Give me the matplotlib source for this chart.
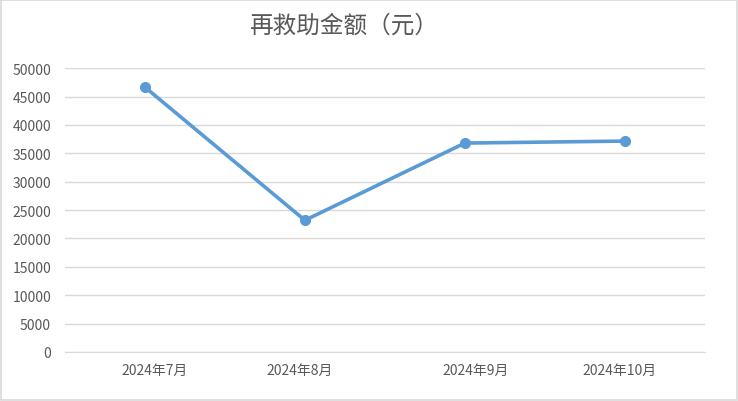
import matplotlib
matplotlib.use("Agg")
import matplotlib.pyplot as plt
import matplotlib.transforms as mtransforms
from matplotlib.patches import Rectangle

plt.rcParams['font.family'] = ['Noto Sans CJK SC', 'DejaVu Sans']

# data
months = ["2024年7月", "2024年8月", "2024年9月", "2024年10月"]
amounts = [46650, 23200, 36800, 37150]
y_ticks = list(range(0, 50001, 5000))

line_color = "#5B9BD5"
grid_color = "#D9D9D9"
text_color = "#595959"

fig = plt.figure(figsize=(7.38, 4.02), dpi=100)
ax = fig.add_axes([0.088, 0.122, 0.867, 0.706])

x = list(range(len(months)))
ax.plot(x, amounts, color=line_color, linewidth=2.6, marker="o",
        markersize=7, solid_capstyle="round", zorder=3)

ax.set_xlim(-0.5, len(months) - 0.5)
ax.set_ylim(0, 50000)
ax.set_yticks(y_ticks)
ax.set_yticklabels([str(v) for v in y_ticks])
ax.set_xticks(x)
ax.set_xticklabels(months)

ax.grid(axis="y", color=grid_color, linewidth=1)
ax.set_axisbelow(True)
for side in ["top", "right", "left"]:
    ax.spines[side].set_visible(False)
ax.spines["bottom"].set_color(grid_color)
ax.tick_params(axis="both", length=0, labelsize=10, labelcolor=text_color)
ax.tick_params(axis="y", pad=10)
ax.tick_params(axis="x", pad=8)

# the source offsets its category labels slightly from the points
shifts = [10, -5, 11, -5]
for lbl, dx in zip(ax.get_xticklabels(), shifts):
    lbl.set_transform(lbl.get_transform() +
                      mtransforms.ScaledTranslation(dx / 100, 0, fig.dpi_scale_trans))

fig.text(0.466, 0.935, "再救助金额（元）", ha="center", va="center",
         fontsize=17, color=text_color, fontweight="light")

fig.patches.append(Rectangle((0.002, 0.003), 0.996, 0.994, transform=fig.transFigure,
                             fill=False, edgecolor=grid_color, linewidth=1.2))

fig.savefig("out.png", dpi=100)
